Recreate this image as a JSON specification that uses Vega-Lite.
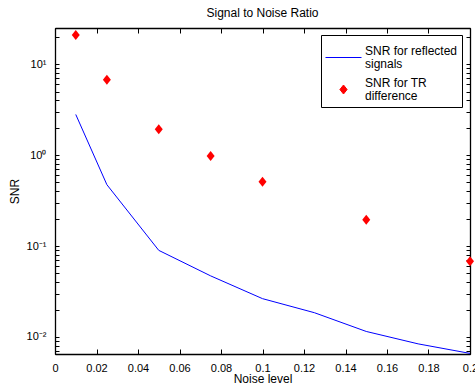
{
  "$schema": "https://vega.github.io/schema/vega-lite/v6.json",
  "width": 415,
  "height": 326,
  "autosize": {"type": "none"},
  "padding": {"left": 55, "top": 28, "right": 5, "bottom": 31},
  "background": "white",
  "config": {
    "font": "Liberation Sans",
    "view": {"stroke": "black", "strokeWidth": 1},
    "axis": {"labelFont": "Liberation Sans", "titleFont": "Liberation Sans", "labelFontSize": 11, "titleFontSize": 12, "titleFontWeight": "normal", "labelColor": "black", "titleColor": "black", "domainColor": "black", "domainWidth": 1.3, "tickColor": "black", "grid": false}
  },
  "title": {"text": "Signal to Noise Ratio", "fontSize": 12, "fontWeight": "normal", "font": "Liberation Sans", "color": "black", "offset": 8, "anchor": "middle"},
  "data": {"values": [
    {"noise": 0.01, "snr": 2.8, "series": "SNR for reflected signals"},
    {"noise": 0.025, "snr": 0.473, "series": "SNR for reflected signals"},
    {"noise": 0.05, "snr": 0.0897, "series": "SNR for reflected signals"},
    {"noise": 0.075, "snr": 0.047, "series": "SNR for reflected signals"},
    {"noise": 0.1, "snr": 0.0264, "series": "SNR for reflected signals"},
    {"noise": 0.125, "snr": 0.0185, "series": "SNR for reflected signals"},
    {"noise": 0.15, "snr": 0.0115, "series": "SNR for reflected signals"},
    {"noise": 0.175, "snr": 0.0084, "series": "SNR for reflected signals"},
    {"noise": 0.2, "snr": 0.0066, "series": "SNR for reflected signals"},
    {"noise": 0.01, "snr": 21.0, "series": "SNR for TR difference"},
    {"noise": 0.025, "snr": 6.74, "series": "SNR for TR difference"},
    {"noise": 0.05, "snr": 1.93, "series": "SNR for TR difference"},
    {"noise": 0.075, "snr": 0.975, "series": "SNR for TR difference"},
    {"noise": 0.1, "snr": 0.51, "series": "SNR for TR difference"},
    {"noise": 0.15, "snr": 0.195, "series": "SNR for TR difference"},
    {"noise": 0.2, "snr": 0.068, "series": "SNR for TR difference"}
  ]},
  "layer": [
    {
      "transform": [{"filter": "datum.series === 'SNR for reflected signals'"}],
      "mark": {"type": "line", "strokeWidth": 1, "clip": false},
      "encoding": {
        "x": {"field": "noise", "type": "quantitative",
          "scale": {"domain": [0, 0.2], "nice": false, "zero": false},
          "axis": {"orient": "bottom", "title": "Noise level", "values": [0, 0.02, 0.04, 0.06, 0.08, 0.1, 0.12, 0.14, 0.16, 0.18, 0.2], "format": "~g", "labelFlush": false, "labelOverlap": false, "tickSize": -5, "labelPadding": 13, "titlePadding": 0, "domain": true}},
        "y": {"field": "snr", "type": "quantitative",
          "scale": {"type": "log", "domain": [0.0065, 25], "nice": false},
          "axis": {"orient": "left", "title": "SNR", "values": [0.007, 0.008, 0.009, 0.01, 0.02, 0.03, 0.04, 0.05, 0.06, 0.07, 0.08, 0.09, 0.1, 0.2, 0.3, 0.4, 0.5, 0.6, 0.7, 0.8, 0.9, 1, 2, 3, 4, 5, 6, 7, 8, 9, 10, 20],
            "labelExpr": "datum.value == 10 ? '10¹' : datum.value == 1 ? '10⁰' : datum.value == 0.1 ? '10⁻¹' : datum.value == 0.01 ? '10⁻²' : ''",
            "labelOverlap": false, "labelFlush": false, "tickSize": -4,
            "labelPadding": 13, "titlePadding": 5}},
        "color": {"field": "series", "type": "nominal",
          "scale": {"domain": ["SNR for reflected signals", "SNR for TR difference"], "range": ["#0000ff", "#ff0000"]},
          "legend": {
            "title": null, "orient": "none", "legendX": 266, "legendY": 7,
            "strokeColor": "black", "fillColor": "white", "padding": 4, "cornerRadius": 0,
            "labelFontSize": 12, "labelFont": "Liberation Sans", "labelColor": "black", "labelOffset": 3, "labelLimit": 300,
            "symbolOpacity": 1, "symbolSize": 1296, "symbolStrokeWidth": 1, "rowPadding": -11,
            "labelExpr": "datum.value === 'SNR for reflected signals' ? ['SNR for reflected', 'signals'] : ['SNR for TR', 'difference']",
            "encode": {
              "labels": {"update": {"lineHeight": {"value": 13.4}, "dy": {"value": -6.7}, "fontSize": {"value": 12}}}
            }
          }}
      }
    },
    {
      "transform": [{"filter": "datum.series === 'SNR for TR difference'"}],
      "mark": {"type": "point", "filled": true, "opacity": 1, "size": 1600, "clip": false},
      "encoding": {
        "x": {"field": "noise", "type": "quantitative",
          "scale": {"domain": [0, 0.2], "nice": false, "zero": false},
          "axis": {"orient": "top", "title": null, "labels": false, "values": [0, 0.02, 0.04, 0.06, 0.08, 0.1, 0.12, 0.14, 0.16, 0.18, 0.2], "tickSize": -5, "domain": true}},
        "y": {"field": "snr", "type": "quantitative",
          "scale": {"type": "log", "domain": [0.0065, 25], "nice": false},
          "axis": {"orient": "right", "title": null, "labels": false, "values": [0.007, 0.008, 0.009, 0.01, 0.02, 0.03, 0.04, 0.05, 0.06, 0.07, 0.08, 0.09, 0.1, 0.2, 0.3, 0.4, 0.5, 0.6, 0.7, 0.8, 0.9, 1, 2, 3, 4, 5, 6, 7, 8, 9, 10, 20],
            "tickSize": -4}},
        "color": {"field": "series", "type": "nominal",
          "scale": {"domain": ["SNR for reflected signals", "SNR for TR difference"], "range": ["#0000ff", "#ff0000"]}},
        "shape": {"field": "series", "type": "nominal",
          "scale": {"domain": ["SNR for reflected signals", "SNR for TR difference"], "range": ["stroke", "M0,-0.25L0.2,0L0,0.25L-0.2,0Z"]},
          "legend": null}
      }
    }
  ],
  "resolve": {"axis": {"x": "independent", "y": "independent"}}
}
